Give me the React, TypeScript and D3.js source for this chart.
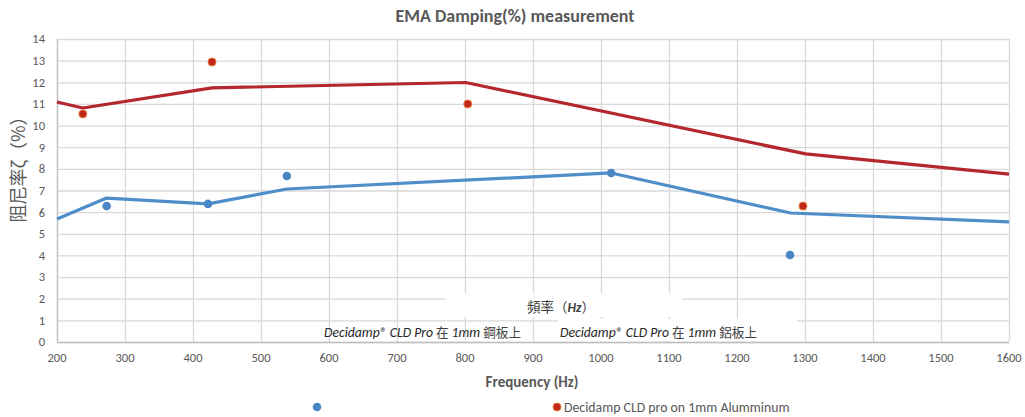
import React, { useEffect, useRef } from 'react';
import * as d3 from 'd3';

// 坐标轴刻度
const xTicks = [200, 300, 400, 500, 600, 700, 800, 900, 1000, 1100, 1200, 1300, 1400, 1500, 1600];
const yTicks = [0, 1, 2, 3, 4, 5, 6, 7, 8, 9, 10, 11, 12, 13, 14];

// 钢板 (蓝) — 折线 + 散点
const steelLineFreq = [200, 273, 422, 538, 1015, 1279, 1600];
const steelLineVal = [5.68, 6.65, 6.38, 7.07, 7.81, 5.96, 5.55];
const steelDotFreq = [273, 422, 538, 1015, 1278];
const steelDotVal = [6.28, 6.38, 7.67, 7.81, 4.02];

// 铝板 (红)
const aluLineFreq = [200, 238, 428, 801, 1301, 1600];
const aluLineVal = [11.09, 10.81, 11.74, 11.99, 8.69, 7.76];
const aluDotFreq = [238, 428, 804, 1297];
const aluDotVal = [10.54, 12.94, 11.0, 6.28];

const FONT = 'Calibri, Carlito, Lato, "Noto Sans", sans-serif';
const CJK = '"Noto Sans CJK TC", sans-serif';
const GRAY = '#595959';
const BLUE = '#4f8ec9';
const RED = '#b3272d';

const W = 1025, H = 417;
const m = { left: 57, right: 16, top: 39, bottom: 75 };

const App: React.FC = () => {
  const ref = useRef<SVGSVGElement>(null);

  useEffect(() => {
    if (!ref.current) return;
    const svg = d3.select(ref.current);
    svg.selectAll('*').remove();

    const x = d3.scaleLinear().domain([200, 1600]).range([m.left, W - m.right]);
    const y = d3.scaleLinear().domain([0, 14]).range([H - m.bottom, m.top]);

    // 网格
    const grid = svg.append('g');
    grid.selectAll('line.h').data(yTicks).enter().append('line')
      .attr('x1', m.left).attr('x2', W - m.right)
      .attr('y1', d => y(d) + 0.5).attr('y2', d => y(d) + 0.5)
      .attr('stroke', '#d9d9d9').attr('stroke-width', 1.3);
    grid.selectAll('line.v').data(xTicks).enter().append('line')
      .attr('y1', m.top).attr('y2', H - m.bottom)
      .attr('x1', d => x(d) + 0.5).attr('x2', d => x(d) + 0.5)
      .attr('stroke', '#d9d9d9').attr('stroke-width', 1.3);
    // 坐标轴线
    svg.append('line').attr('x1', m.left + 0.5).attr('x2', m.left + 0.5)
      .attr('y1', m.top).attr('y2', H - m.bottom).attr('stroke', '#bfbfbf').attr('stroke-width', 1.3);
    svg.append('line').attr('x1', m.left).attr('x2', W - m.right)
      .attr('y1', H - m.bottom + 0.5).attr('y2', H - m.bottom + 0.5).attr('stroke', '#bfbfbf').attr('stroke-width', 1.3);

    // 刻度文字
    svg.append('g').selectAll('text').data(yTicks).enter().append('text')
      .attr('x', 45).attr('y', d => y(d)).attr('dy', '0.35em')
      .attr('text-anchor', 'end').attr('font-family', FONT).attr('font-size', 12.5)
      .attr('fill', GRAY).text(d => d);
    svg.append('g').selectAll('text').data(xTicks).enter().append('text')
      .attr('x', d => x(d)).attr('y', 362)
      .attr('text-anchor', 'middle').attr('font-family', FONT).attr('font-size', 12.5)
      .attr('fill', GRAY).text(d => d);

    // 折线
    const line = d3.line<[number, number]>().x(d => x(d[0])).y(d => y(d[1]));
    const steelLine = steelLineFreq.map((f, i) => [f, steelLineVal[i]] as [number, number]);
    const aluLine = aluLineFreq.map((f, i) => [f, aluLineVal[i]] as [number, number]);
    svg.append('path').attr('d', line(steelLine)).attr('fill', 'none')
      .attr('stroke', BLUE).attr('stroke-width', 3.2).attr('stroke-linejoin', 'round');
    svg.append('path').attr('d', line(aluLine)).attr('fill', 'none')
      .attr('stroke', RED).attr('stroke-width', 3.2).attr('stroke-linejoin', 'round');

    // 散点
    svg.append('g').selectAll('circle').data(steelDotFreq).enter().append('circle')
      .attr('cx', d => x(d)).attr('cy', (d, i) => y(steelDotVal[i])).attr('r', 4.3)
      .attr('fill', '#4a86c5');
    svg.append('g').selectAll('circle').data(aluDotFreq).enter().append('circle')
      .attr('cx', d => x(d)).attr('cy', (d, i) => y(aluDotVal[i])).attr('r', 4)
      .attr('fill', '#c0281c').attr('stroke', '#e8793a').attr('stroke-width', 1);

    // 标题
    svg.append('text').attr('x', 515).attr('y', 22).attr('text-anchor', 'middle')
      .attr('font-family', FONT).attr('font-size', 18).attr('font-weight', 'bold')
      .attr('fill', GRAY).text('EMA Damping(%) measurement');

    // Y 轴标题
    svg.append('text').attr('transform', 'translate(25,165) rotate(-90)')
      .attr('text-anchor', 'middle').attr('font-family', CJK)
      .attr('font-size', 18).attr('fill', GRAY).text('阻尼率ζ（%）');

    // X 轴标题
    svg.append('text').attr('x', 532).attr('y', 387).attr('text-anchor', 'middle')
      .attr('font-family', FONT).attr('font-size', 15).attr('font-weight', 'bold')
      .attr('fill', GRAY).text('Frequency (Hz)');

    // 图内覆盖文字（白底）
    svg.append('rect').attr('x', 445).attr('y', 293).attr('width', 237).attr('height', 24).attr('fill', '#fff');
    const t1 = svg.append('text').attr('x', 561).attr('y', 312).attr('text-anchor', 'middle')
      .attr('font-family', CJK).attr('font-size', 13.5).attr('fill', '#404040');
    t1.append('tspan').text('頻率（');
    t1.append('tspan').attr('font-style', 'italic').attr('font-weight', 'bold').attr('font-family', FONT).text('Hz');
    t1.append('tspan').text('）');

    const legendText = (sx: number, sy: number, plate: string) => {
      const t = svg.append('text').attr('x', sx).attr('y', sy)
        .attr('font-size', 13.7).attr('fill', '#262626');
      t.append('tspan').attr('font-family', FONT).attr('font-style', 'italic').text('Decidamp® CLD Pro ');
      t.append('tspan').attr('font-family', CJK).attr('font-size', 12.6).attr('fill', '#404040').text('在 ');
      t.append('tspan').attr('font-family', FONT).attr('font-style', 'italic').text('1mm ');
      t.append('tspan').attr('font-family', CJK).attr('font-size', 12.6).attr('fill', '#404040').text(plate);
    };
    legendText(324, 337, '鋼板上');
    svg.append('rect').attr('x', 558).attr('y', 319).attr('width', 239).attr('height', 22).attr('fill', '#fff');
    legendText(560, 337, '鋁板上');

    // 底部图例
    svg.append('circle').attr('cx', 317).attr('cy', 407).attr('r', 4.3).attr('fill', '#4a86c5');
    svg.append('circle').attr('cx', 557).attr('cy', 407).attr('r', 4)
      .attr('fill', '#c0281c').attr('stroke', '#e8793a').attr('stroke-width', 1);
    svg.append('text').attr('x', 564).attr('y', 412).attr('font-family', FONT)
      .attr('font-size', 13.8).attr('fill', GRAY).text('Decidamp CLD pro on 1mm Alumminum');
  }, []);

  return (
    <svg ref={ref} width={W} height={H}
      style={{ position: 'absolute', left: 0, top: 0, background: '#fff' }} />
  );
};

export default App;
